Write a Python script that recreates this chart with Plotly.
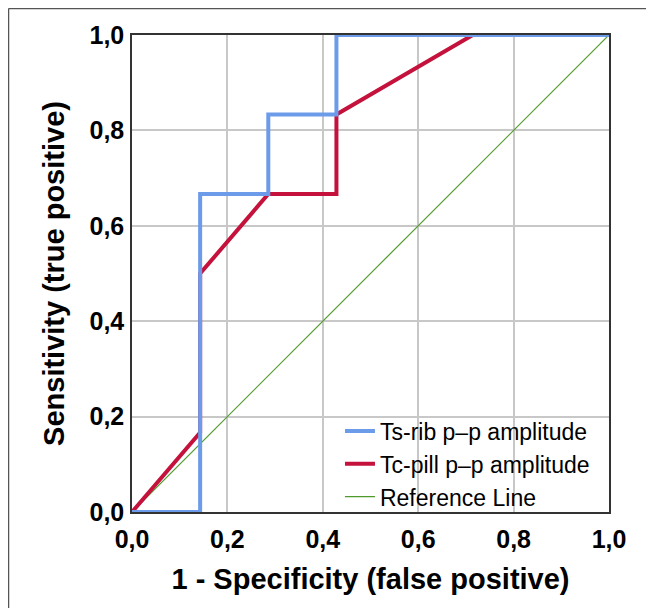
import plotly.graph_objects as go

# 1 - specificity (x) and sensitivity (y) for each ROC curve
ts_rib_fpr = [0.0, 1/7, 1/7, 2/7, 2/7, 3/7, 3/7, 1.0]
ts_rib_tpr = [0.0, 0.0, 4/6, 4/6, 5/6, 5/6, 1.0, 1.0]

tc_pill_fpr = [0.0, 1/7, 1/7, 2/7, 3/7, 3/7, 5/7, 1.0]
tc_pill_tpr = [0.0, 1/6, 3/6, 4/6, 4/6, 5/6, 1.0, 1.0]

ref_x = [0.0, 1.0]
ref_y = [0.0, 1.0]

tick_vals = [0.0, 0.2, 0.4, 0.6, 0.8, 1.0]

SANS = "Liberation Sans, Arial, Helvetica, sans-serif"

W, H = 646, 600
L, T, PW = 124, 27, 477

fig = go.Figure()
fig.add_trace(go.Scatter(x=ref_x, y=ref_y, mode="lines", name="Reference Line",
                         line=dict(color="#4F9A2C", width=1.2), legendrank=3))
fig.add_trace(go.Scatter(x=tc_pill_fpr, y=tc_pill_tpr, mode="lines", name="Tc-pill p–p amplitude",
                         line=dict(color="#C4123C", width=4), legendrank=2))
fig.add_trace(go.Scatter(x=ts_rib_fpr, y=ts_rib_tpr, mode="lines", name="Ts-rib p–p amplitude",
                         line=dict(color="#6C9BEA", width=4), legendrank=1))

axis_common = dict(
    range=[0, 1], tickvals=tick_vals, tickformat=".1f",
    showgrid=True, gridcolor="#C8C8C8", gridwidth=1.5,
    showline=True, linecolor="#333333", linewidth=1.5, mirror=True,
    zeroline=False, ticks="",
    tickfont=dict(family=SANS, size=25, color="black", weight="bold"),
)

fig.update_xaxes(**axis_common,
                 title=dict(text="<b>1 - Specificity (false positive)</b>",
                            font=dict(family=SANS, size=29, color="black"), standoff=17),
                 ticklabelstandoff=4)
fig.update_yaxes(**axis_common,
                 title=dict(text="<b>Sensitivity (true positive)</b>",
                            font=dict(family=SANS, size=29, color="black"), standoff=16),
                 ticklabelstandoff=1)

fig.update_layout(
    width=W, height=H,
    margin=dict(l=L, r=W - L - PW, t=T, b=H - T - PW),
    paper_bgcolor="white", plot_bgcolor="white",
    separators=",.",
    showlegend=True,
    legend=dict(x=0.436, y=0.215, xanchor="left", yanchor="top",
                bgcolor="rgba(0,0,0,0)", borderwidth=0,
                font=dict(family=SANS, size=23, color="black"),
                tracegroupgap=0, traceorder="normal"),
    shapes=[
        dict(type="line", xref="paper", yref="paper", x0=-0.2589, x1=1.2, y0=1.0556, y1=1.0556,
             line=dict(color="#555555", width=1.5)),
        dict(type="line", xref="paper", yref="paper", x0=-0.2589, x1=-0.2589, y0=1.0556, y1=-0.3,
             line=dict(color="#555555", width=1.5)),
    ],
)

fig.write_html("out.html")
